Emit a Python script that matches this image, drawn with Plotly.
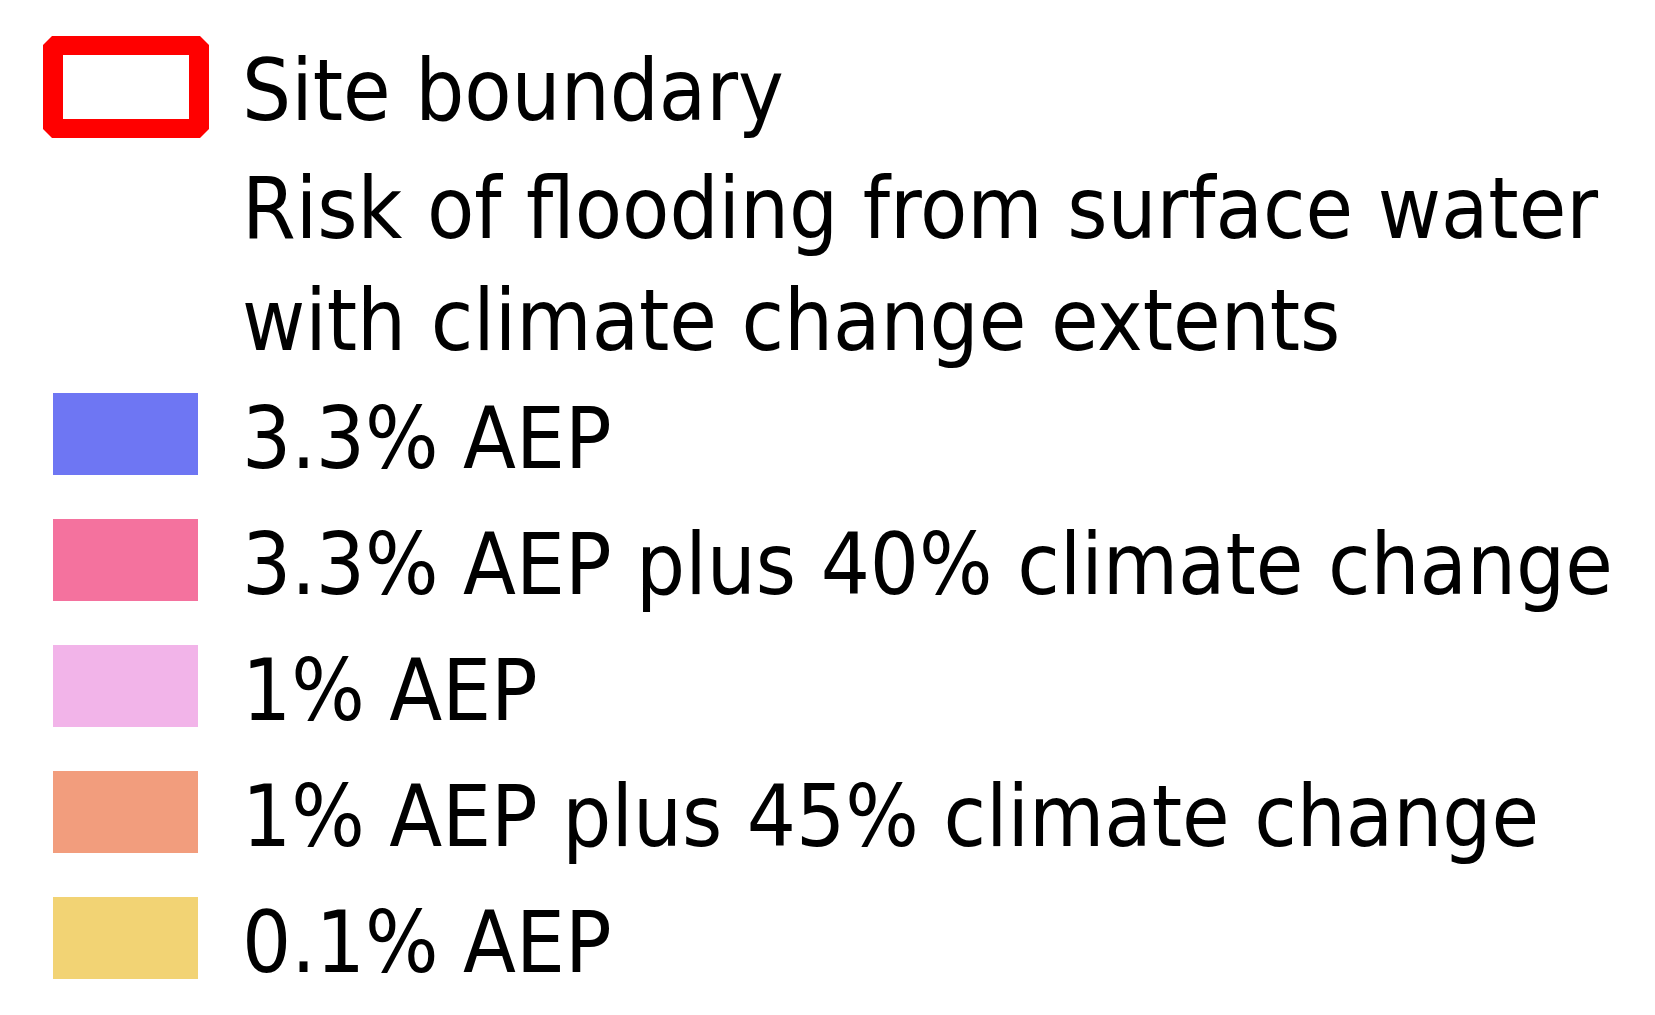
import plotly.graph_objects as go

# legend content
boundary_label = "Site boundary"
boundary_color = "#FF0000"
heading_lines = ["Risk of flooding from surface water", "with climate change extents"]
flood_labels = [
    "3.3% AEP",
    "3.3% AEP plus 40% climate change",
    "1% AEP",
    "1% AEP plus 45% climate change",
    "0.1% AEP",
]
flood_colors = ["#6E76F3", "#F4729E", "#F2B4E9", "#F29D7D", "#F2D374"]

W, H = 1655, 1015
OFF = 8  # page body margin, so axis units match screen pixels
FONT = "DejaVu Sans Condensed, DejaVu Sans, sans-serif"
FSIZE = 86

# layout in screen pixels
sw_x0, sw_x1 = 53, 198
sw_h = 82
first_row = 434
pitch = 126
text_x = 240


def text_ann(x, y, txt):
    return dict(x=x, y=y, xref="x", yref="y", text=txt, showarrow=False,
                xanchor="left", yanchor="middle", align="left",
                font=dict(family=FONT, size=FSIZE, color="black"))


fig = go.Figure()
shapes = []
annotations = []

# site boundary symbol: chamfered red frame
c = 9
ox0, ox1, oy0, oy1 = 43, 209, 36, 138
path = (f"M{ox0+c},{oy0} L{ox1-c},{oy0} L{ox1},{oy0+c} L{ox1},{oy1-c} "
        f"L{ox1-c},{oy1} L{ox0+c},{oy1} L{ox0},{oy1-c} L{ox0},{oy0+c} Z")
shapes.append(dict(type="path", path=path, xref="x", yref="y",
                   fillcolor=boundary_color, line=dict(width=0)))
shapes.append(dict(type="rect", xref="x", yref="y", x0=63, x1=189, y0=55, y1=119,
                   fillcolor="white", line=dict(width=0)))
annotations.append(text_ann(text_x, 90, boundary_label))

# heading (two lines)
annotations.append(text_ann(text_x, 208, heading_lines[0]))
annotations.append(text_ann(text_x, 320, heading_lines[1]))

# flood swatches
for i, (lab, col) in enumerate(zip(flood_labels, flood_colors)):
    yc = first_row + i * pitch
    shapes.append(dict(type="rect", xref="x", yref="y", x0=sw_x0, x1=sw_x1,
                       y0=yc - sw_h / 2, y1=yc + sw_h / 2,
                       fillcolor=col, line=dict(width=0)))
    annotations.append(text_ann(text_x, yc + 4, lab))

fig.add_trace(go.Scatter(x=[OFF, W], y=[OFF, H], mode="markers",
                         marker=dict(opacity=0), hoverinfo="skip", showlegend=False))

fig.update_layout(
    width=W, height=H,
    margin=dict(l=0, r=0, t=0, b=0),
    plot_bgcolor="white", paper_bgcolor="white",
    xaxis=dict(range=[OFF, W + OFF], visible=False, fixedrange=True),
    yaxis=dict(range=[H + OFF, OFF], visible=False, fixedrange=True),
    shapes=shapes, annotations=annotations,
)

fig.write_html("out.html")
